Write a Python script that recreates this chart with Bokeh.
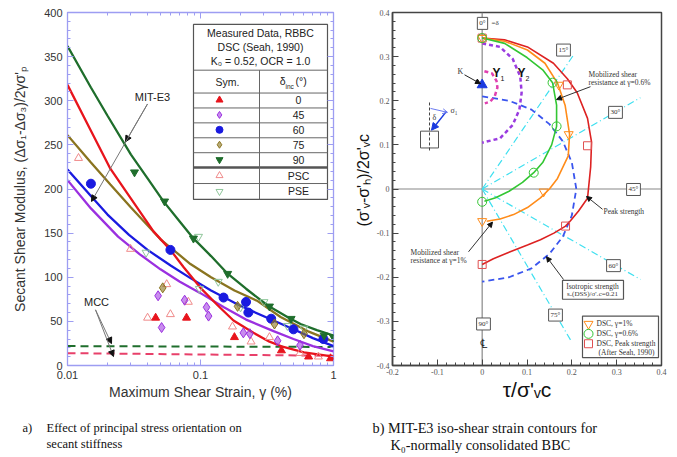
import math
from bokeh.plotting import figure
from bokeh.layouts import row, column
from bokeh.models import (Label, Span, Arrow, NormalHead, OpenHead, LogAxis, LinearAxis, Title,
                          FixedTicker, SingleIntervalTicker, CustomJSTickFormatter, Range1d)
from bokeh.embed import file_html
from bokeh.resources import INLINE

# ================= Panel (a) data =================
# MIT-E3 predictions, secant shear modulus vs. max shear strain (%)
mit0_x = [0.01, 0.015, 0.021, 0.03, 0.0443, 0.0594, 0.075, 0.1, 0.135, 0.177, 0.25, 0.33, 0.42, 0.6, 1.0]
mit0_y = [318, 266, 223, 189, 152, 131, 111, 88, 68, 51, 37, 27, 21, 15, 10]
mit45_x = [0.01, 0.015, 0.024, 0.035, 0.05, 0.07, 0.1, 0.15, 0.22, 0.354, 0.5, 0.7, 1.0]
mit45_y = [210, 178, 146, 126, 109, 95, 82, 66, 52, 39, 30, 22, 16]
mit60_x = [0.01, 0.015, 0.02, 0.029, 0.04, 0.06, 0.084, 0.12, 0.18, 0.25, 0.354, 0.5, 0.7, 1.0]
mit60_y = [222, 192, 171, 148, 131, 113, 99, 85, 71, 61, 51, 41, 31, 22]
mit75_x = [0.01, 0.015, 0.021, 0.03, 0.05, 0.084, 0.12, 0.18, 0.269, 0.4, 0.638, 1.0]
mit75_y = [261, 230, 205, 179, 143, 115, 100, 85, 73, 55, 39, 27]
mit90_x = [0.01, 0.015, 0.02, 0.03, 0.04, 0.0527, 0.07, 0.0885, 0.12, 0.16, 0.22, 0.32, 0.45, 0.565, 0.75, 1.0]
mit90_y = [362, 315, 283, 239, 212, 186, 163, 144, 124, 104, 87, 68, 55, 47, 40, 34]

# MCC predictions
mcc_x = [0.01, 1.0]
mcc_green_y = [22, 21]
mcc_red_y = [14, 11]

# Measured data (Seah, 1990)
d0_x = [0.046, 0.0785, 0.18, 0.406, 0.65, 0.95]
d0_y = [54, 54, 32, 17, 10, 8]
d45_x = [0.048, 0.051, 0.076, 0.111, 0.115, 0.21, 0.235, 0.38, 0.56]
d45_y = [79, 43, 74, 66, 56, 37, 36, 28, 23]
d60_x = [0.015, 0.0594, 0.149, 0.22, 0.229, 0.34, 0.50, 0.84]
d60_y = [206, 131, 77, 72, 60, 53, 41, 30]
d75_x = [0.052, 0.19, 0.36, 0.6]
d75_y = [88, 67, 47, 36]
d90_x = [0.0319, 0.0537, 0.0885, 0.16, 0.33, 0.48, 0.85, 1.0]
d90_y = [219, 186, 144, 104, 67, 53, 34, 32]
psc_x = [0.0121, 0.0298, 0.040, 0.0557, 0.0594, 0.081, 0.174, 0.24, 0.33, 0.56, 0.77]
psc_y = [235, 132, 54, 92, 58, 72, 44, 27, 32, 14, 10]
pse_x = [0.039, 0.0966, 0.098, 0.136, 0.2, 0.30, 0.45, 0.6]
pse_y = [128, 146, 87, 95, 66, 72, 45, 42]

table_rows = ["0", "45", "60", "75", "90", "PSC", "PSE"]
x_ticks_a = [0.01, 0.1, 1.0]

# ================= Panel (b) data =================
peak_x = [0, 0.05, 0.101, 0.159, 0.19, 0.212, 0.235, 0.244, 0.242, 0.235, 0.215, 0.197, 0.186, 0.16, 0.13, 0.101, 0.056, 0.025, 0]
peak_y = [0.342, 0.338, 0.322, 0.285, 0.25, 0.218, 0.16, 0.106, 0.05, -0.021, -0.05, -0.072, -0.084, -0.1, -0.115, -0.127, -0.145, -0.158, -0.171]
g1_x = [0, 0.05, 0.101, 0.14, 0.168, 0.185, 0.195, 0.192, 0.168, 0.15, 0.13, 0.101, 0.07, 0.04, 0.01]
g1_y = [0.342, 0.335, 0.315, 0.285, 0.24, 0.19, 0.124, 0.075, 0.024, 0.0, -0.02, -0.042, -0.058, -0.068, -0.073]
g06_x = [0, 0.05, 0.1, 0.135, 0.157, 0.166, 0.166, 0.155, 0.135, 0.115, 0.09, 0.06, 0.03, 0.005]
g06_y = [0.342, 0.33, 0.298, 0.27, 0.241, 0.19, 0.142, 0.1, 0.06, 0.037, 0.015, -0.005, -0.02, -0.028]
iso_x = [0, 0.06, 0.11, 0.15, 0.18, 0.2, 0.21, 0.2, 0.18, 0.15, 0.11, 0.06, 0]
iso_y = [0.21, 0.2, 0.18, 0.147, 0.108, 0.06, 0.0, -0.06, -0.108, -0.147, -0.18, -0.2, -0.21]
y2_x = [0, 0.04, 0.068, 0.085, 0.088, 0.083, 0.068, 0.04, 0]
y2_y = [0.33, 0.322, 0.295, 0.255, 0.218, 0.18, 0.145, 0.115, 0.105]
y1_x = [0.005, 0.022, 0.032, 0.034, 0.028, 0.018, 0.006]
y1_y = [0.267, 0.262, 0.245, 0.23, 0.21, 0.198, 0.194]
ray_x = [0.204, 0.353, 0.353, 0.197]
ray_y = [0.304, 0.207, -0.205, -0.342]
dsc1_x = [0, 0.171, 0.193, 0.137, 0]
dsc1_y = [0.342, 0.236, 0.124, -0.006, -0.073]
dsc06_x = [0, 0.157, 0.166, 0.115, 0]
dsc06_y = [0.342, 0.241, 0.142, 0.037, -0.029]
dscpk_x = [0, 0.19, 0.235, 0.186, 0]
dscpk_y = [0.342, 0.236, 0.098, -0.084, -0.171]
k0_x = [0]
k0_y = [0.236]
deg_labels = ["0°", "15°", "30°", "45°", "60°", "75°", "90°"]

# ---------- pixel helpers for annotation placement ----------
def ax(px): return 10 ** ((px - 67) / 133.0 - 2)
def ay(py): return (365 - py) / 0.8875
def bx(px): return (px - 392) / 448.33 - 0.2
def by(py): return 0.4 - (py - 12) / 446.25

def lab(p, x, y, text, size, font="Liberation Sans", color="#222", align="center",
        baseline="middle", angle=0, **kw):
    p.add_layout(Label(x=x, y=y, text=text, text_font=font, text_font_size=f"{size}px",
                       text_color=color, text_align=align, text_baseline=baseline,
                       angle=angle, **kw))

def arrow(p, x0, y0, x1, y1, color="#777", head="#111", size=6):
    p.add_layout(Arrow(end=NormalHead(size=size, fill_color=head, line_color=head),
                       x_start=x0, y_start=y0, x_end=x1, y_end=y1,
                       line_color=color, line_width=1))

def tick_style(a, color, font, size, lcolor):
    a.axis_line_color = color
    a.major_tick_line_color = color
    a.minor_tick_line_color = color
    a.major_tick_in = 6
    a.major_tick_out = 0
    a.minor_tick_in = 3
    a.minor_tick_out = 0
    a.major_label_text_font = font
    a.major_label_text_font_size = size
    a.major_label_text_color = lcolor

TOP_H = 412   # height of the two chart panels; captions below

# ================= Panel (a) =================
LAV = "#9d9df2"
RED, PUR, BLU, OLV, GRN = "#e8141c", "#9b30e0", "#1a1ae0", "#8a7420", "#1f6e2c"
PSC_C, PSE_C = "#f08a8a", "#8fc69a"

p1 = figure(width=340, height=TOP_H, x_axis_type="log", x_range=(0.01, 1.0), y_range=(0, 400),
            output_backend="svg", toolbar_location=None,
            min_border_left=67, min_border_right=7, min_border_top=10, min_border_bottom=TOP_H - 365)
p1.grid.visible = False
p1.outline_line_color = LAV
p1.outline_line_width = 1.3

minor_log = [k * 10.0 ** e for e in (-2, -1) for k in range(2, 10)]
xa = p1.xaxis[0]
xa.ticker = FixedTicker(ticks=x_ticks_a, minor_ticks=minor_log)
xa.formatter = CustomJSTickFormatter(code="return String(parseFloat(tick.toPrecision(2)));")
tick_style(xa, LAV, "Liberation Sans", "11px", "#333")
xa.major_label_standoff = 5
xa.axis_label = "Maximum Shear Strain, γ (%)"
xa.axis_label_text_font = "Liberation Sans"
xa.axis_label_text_font_size = "14px"
xa.axis_label_text_font_style = "normal"
xa.axis_label_text_color = "#333"
xa.axis_label_standoff = 2

ya = p1.yaxis[0]
ya.ticker = SingleIntervalTicker(interval=50, num_minor_ticks=5)
tick_style(ya, LAV, "Liberation Sans", "11px", "#333")
ya.major_label_standoff = 5
ya.axis_label = "Secant Shear Modulus, (Δσ₁-Δσ₃)/2γσ'ₚ"
ya.axis_label_text_font = "Liberation Sans"
ya.axis_label_text_font_size = "14px"
ya.axis_label_text_font_style = "normal"
ya.axis_label_text_color = "#333"
ya.axis_label_standoff = 13

top_ax = LogAxis(ticker=FixedTicker(ticks=x_ticks_a, minor_ticks=minor_log))
tick_style(top_ax, LAV, "Liberation Sans", "2px", "#333")
top_ax.major_label_text_alpha = 0
top_ax.major_label_standoff = 0
top_ax.axis_line_color = None
p1.add_layout(top_ax, "above")
right_ax = LinearAxis(ticker=SingleIntervalTicker(interval=50, num_minor_ticks=5))
tick_style(right_ax, LAV, "Liberation Sans", "2px", "#333")
right_ax.major_label_text_alpha = 0
right_ax.major_label_standoff = 0
right_ax.axis_line_color = None
p1.add_layout(right_ax, "right")

# MCC
p1.line(mcc_x, mcc_green_y, line_color=GRN, line_width=2, line_dash="8 5")
p1.line(mcc_x, mcc_red_y, line_color="#e8406a", line_width=2, line_dash="8 5")
# MIT-E3 curves
for xs, ys, c in [(mit45_x, mit45_y, PUR), (mit60_x, mit60_y, BLU), (mit75_x, mit75_y, OLV),
                  (mit0_x, mit0_y, RED), (mit90_x, mit90_y, GRN)]:
    p1.line(xs, ys, line_color=c, line_width=2.3)
# measured data
p1.scatter(psc_x, psc_y, marker="triangle", size=8, fill_color=None, line_color=PSC_C, line_width=1)
p1.scatter(pse_x, pse_y, marker="inverted_triangle", size=8, fill_color=None, line_color=PSE_C, line_width=1)
p1.scatter(d0_x, d0_y, marker="triangle", size=8, fill_color=RED, line_color=RED)
p1.scatter(d45_x, d45_y, marker="diamond", size=10, fill_color=PUR, fill_alpha=0.55, line_color=PUR)
p1.scatter(d60_x, d60_y, marker="circle", size=9, fill_color=BLU, line_color=BLU)
p1.scatter(d75_x, d75_y, marker="diamond", size=10, fill_color=OLV, fill_alpha=0.6, line_color=OLV)
p1.scatter(d90_x, d90_y, marker="inverted_triangle", size=8, fill_color=GRN, line_color=GRN)

# legend table
TL, TR, TT, TB, TV = 193, 327, 22, 198, 259
p1.quad(left=[ax(TL)], right=[ax(TR)], top=[ay(TT)], bottom=[ay(TB)],
        fill_color="white", line_color="#555", line_width=1.2)
hl = [68, 91, 106, 121, 136, 151, 182]
p1.segment(x0=[ax(TL)] * len(hl), y0=[ay(v) for v in hl], x1=[ax(TR)] * len(hl),
           y1=[ay(v) for v in hl], line_color="#666", line_width=1)
p1.segment(x0=[ax(TL)], y0=[ay(166)], x1=[ax(TR)], y1=[ay(166)], line_color="#555", line_width=2.5)
p1.segment(x0=[ax(TV)], y0=[ay(68)], x1=[ax(TV)], y1=[ay(TB)], line_color="#666", line_width=1)
row_py = [98, 113, 128, 143, 158, 174, 190]
sym = [("triangle", RED, RED, 1), ("diamond", PUR, PUR, 0.55), ("circle", BLU, BLU, 1),
       ("diamond", OLV, OLV, 0.6), ("inverted_triangle", GRN, GRN, 1),
       ("triangle", None, PSC_C, 1), ("inverted_triangle", None, PSE_C, 1)]
for (m, fc, lc, fa), py in zip(sym, row_py):
    p1.scatter([ax(219)], [ay(py)], marker=m, size=7, fill_color=fc, line_color=lc, fill_alpha=fa)
for t, py in zip(table_rows, row_py):
    lab(p1, ax(298), ay(py), t, 10.5)
lab(p1, ax(260), ay(31), "Measured Data, RBBC", 10.5)
lab(p1, ax(260), ay(45), "DSC (Seah, 1990)", 10.5)
lab(p1, ax(260), ay(59), "K₀ = 0.52, OCR = 1.0", 10.5)
lab(p1, ax(227), ay(80), "Sym.", 10.5)
lab(p1, ax(285), ay(79), "δ", 10.5, align="right")
lab(p1, ax(285), ay(84), "inc", 6.5, align="left")
lab(p1, ax(295), ay(79), "(°)", 10.5, align="left")

# annotations
lab(p1, ax(152), ay(95), "MIT-E3", 11)
arrow(p1, ax(147), ay(102), ax(125), ay(140))
arrow(p1, ax(147), ay(102), ax(91), ay(200))
lab(p1, ax(96), ay(301), "MCC", 11)
arrow(p1, ax(95), ay(309), ax(111), ay(343))
arrow(p1, ax(95), ay(309), ax(113), ay(356))

# ================= Panel (b) =================
p2 = figure(width=337, height=TOP_H, x_range=(-0.2, 0.4), y_range=(-0.4, 0.4),
            output_backend="svg", toolbar_location=None,
            min_border_left=52, min_border_right=16, min_border_top=12, min_border_bottom=TOP_H - 369)
p2.grid.visible = False
p2.outline_line_color = "#444"
p2.outline_line_width = 1.5
fmt = CustomJSTickFormatter(code="return Math.abs(tick) < 1e-9 ? '0' : tick.toFixed(1);")
for a in (p2.xaxis[0], p2.yaxis[0]):
    a.ticker = SingleIntervalTicker(interval=0.1, num_minor_ticks=5)
    a.formatter = fmt
    tick_style(a, "#444", "Liberation Serif", "8px", "#555")
    a.axis_line_width = 1.5
    a.major_label_standoff = 3
xb = p2.xaxis[0]
xb.axis_label = "τ/σ'ᵥc"
xb.axis_label_text_font = "Liberation Sans"
xb.axis_label_text_font_size = "21px"
xb.axis_label_text_font_style = "normal"
xb.axis_label_text_color = "#111"
xb.axis_label_standoff = 0
p2.add_layout(Title(text="(σ'ᵥ-σ'ₕ)/2σ'ᵥc", align="left", offset=139, standoff=4,
                    text_font="Liberation Sans", text_font_size="16px",
                    text_font_style="normal", text_color="#111"), "left")

p2.add_layout(Span(location=0, dimension="height", line_color="#888", line_width=1.2, level="underlay"))
p2.add_layout(Span(location=0, dimension="width", line_color="#888", line_width=1.2, level="underlay"))

p2.segment(x0=[0] * len(ray_x), y0=[0] * len(ray_y), x1=ray_x, y1=ray_y,
           line_color="#3fe0f0", line_width=1.2, line_dash="7 3 1 3")
p2.line(iso_x, iso_y, line_color="#3a55ee", line_width=1.8, line_dash="6 4")
p2.line(y2_x, y2_y, line_color="#9a3be0", line_width=2.5, line_dash="4 3")
p2.line(y1_x, y1_y, line_color="#e040b0", line_width=2.5, line_dash="4 3")
p2.line(peak_x, peak_y, line_color="#dd2222", line_width=1.6)
p2.line(g1_x, g1_y, line_color="#ff8c1a", line_width=1.6)
p2.line(g06_x, g06_y, line_color="#33c633", line_width=1.6)
p2.scatter(dscpk_x, dscpk_y, marker="square", size=8, fill_color=None, line_color="#e05050", line_width=1)
p2.scatter(dsc1_x, dsc1_y, marker="inverted_triangle", size=9, fill_color=None, line_color="#ff8c1a", line_width=1)
p2.scatter(dsc06_x, dsc06_y, marker="circle", size=9, fill_color=None, line_color="#33c633", line_width=1)
p2.scatter(k0_x, k0_y, marker="triangle", size=10, fill_color="#1a3ae0", line_color="#1a3ae0")

# angle label boxes
deg_pos = [(482, 23), (563, 50), (615, 113), (633, 191), (613, 268), (555, 318), (483, 327)]
for t, (px, py) in zip(deg_labels, deg_pos):
    lab(p2, bx(px), by(py), t, 7, font="Liberation Serif", color="#333",
        background_fill_color="white", border_line_color="#555", padding=2)
lab(p2, bx(491), by(23), "=δ", 7, font="Liberation Serif", color="#333", align="left")
lab(p2, bx(483), by(347), "℄", 13, font="DejaVu Serif", color="#111")

# Y1, Y2, K
lab(p2, bx(492), by(73), "Y", 12, align="left", color="#111", text_font_style="bold")
lab(p2, bx(500), by(79), "1", 7, align="left", color="#111")
lab(p2, bx(517), by(73), "Y", 12, align="left", color="#111", text_font_style="bold")
lab(p2, bx(525), by(79), "2", 7, align="left", color="#111")
lab(p2, bx(460), by(72), "K", 8, font="Liberation Serif", color="#333")
arrow(p2, bx(464), by(75), bx(480), by(84), color="#222", size=5)

# inset element diagram
p2.quad(left=[bx(420)], right=[bx(438)], top=[by(132)], bottom=[by(149)],
        fill_color=None, line_color="#555", line_width=1)
p2.segment(x0=[bx(429)], y0=[by(103)], x1=[bx(429)], y1=[by(153)], line_color="#444",
           line_width=1, line_dash="3 2")
p2.add_layout(Arrow(end=NormalHead(size=7, fill_color="#1a3ae0", line_color="#1a3ae0"),
                    x_start=bx(446), y_start=by(112), x_end=bx(431), y_end=by(131),
                    line_color="#1a3ae0", line_width=1.5))
p2.add_layout(Arrow(end=OpenHead(size=5, line_color="#6a7af0", line_width=1),
                    x_start=bx(430), y_start=by(109), x_end=bx(447), y_end=by(113),
                    line_color="#6a7af0", line_width=1))
lab(p2, bx(434), by(118), "δ", 8, font="Liberation Serif", color="#333")
lab(p2, bx(450), by(111), "σ₁", 8, font="Liberation Serif", color="#333", align="left")

# text annotations
SER = "Liberation Serif"
lab(p2, bx(588), by(75), "Mobilized shear", 7.5, font=SER, color="#333", align="left")
lab(p2, bx(588), by(83), "resistance at γ=0.6%", 7.5, font=SER, color="#333", align="left")
arrow(p2, bx(590), by(87), bx(556), by(100), color="#333", size=5)
lab(p2, bx(603), by(213), "Peak strength", 7.5, font=SER, color="#333", align="left")
arrow(p2, bx(602), by(211), bx(586), by(198), color="#333", size=5)
lab(p2, bx(410), by(255), "Mobilized shear", 7.5, font=SER, color="#333", align="left")
lab(p2, bx(410), by(263), "resistance at γ=1%", 7.5, font=SER, color="#333", align="left")
arrow(p2, bx(468), by(254), bx(492), by(224), color="#333", size=5)
p2.quad(left=[bx(562)], right=[bx(623)], top=[by(283)], bottom=[by(302)],
        fill_color="white", line_color="#555", line_width=1.2)
lab(p2, bx(592), by(289), "Isotropic strength", 7.5, font=SER, color="#333")
lab(p2, bx(592), by(297), "sᵤ(DSS)/σ'ᵥc=0.21", 7, font=SER, color="#333")
arrow(p2, bx(563), by(282), bx(546), by(259), color="#333", size=5)

# legend box (b)
p2.quad(left=[bx(582)], right=[bx(658)], top=[by(319)], bottom=[by(361)],
        fill_color="white", line_color="#555", line_width=1.2)
p2.scatter([bx(588)], [by(327)], marker="inverted_triangle", size=9, fill_color=None, line_color="#ff8c1a")
p2.scatter([bx(588)], [by(337)], marker="circle", size=9, fill_color=None, line_color="#33c633")
p2.scatter([bx(588)], [by(347)], marker="square", size=8, fill_color=None, line_color="#e05050")
lab(p2, bx(596), by(327), "DSC, γ=1%", 7.5, font=SER, color="#333", align="left")
lab(p2, bx(596), by(337), "DSC, γ=0.6%", 7.5, font=SER, color="#333", align="left")
lab(p2, bx(596), by(347), "DSC, Peak strength", 7.5, font=SER, color="#333", align="left")
lab(p2, bx(598), by(356), "(After Seah, 1990)", 7.5, font=SER, color="#333", align="left")

# ================= captions strip =================
pc = figure(width=677, height=457 - TOP_H, x_range=Range1d(0, 677), y_range=Range1d(457, TOP_H),
            output_backend="svg", toolbar_location=None, x_axis_location=None, y_axis_location=None,
            min_border=0)
pc.grid.visible = False
pc.outline_line_color = None
CAP = dict(font=SER, color="#111", align="left")
lab(pc, 22, 427, "a)", 12.5, **CAP)
lab(pc, 46, 427, "Effect of principal stress orientation on", 12.5, **CAP)
lab(pc, 46, 443, "secant stiffness", 12.5, **CAP)
lab(pc, 372, 427, "b) MIT-E3 iso-shear strain contours for", 14.3, **CAP)
lab(pc, 390, 444, "K₀-normally consolidated BBC", 14.3, **CAP)

layout = column(row(p1, p2), pc)
open("out.html", "w").write(file_html(layout, INLINE))
